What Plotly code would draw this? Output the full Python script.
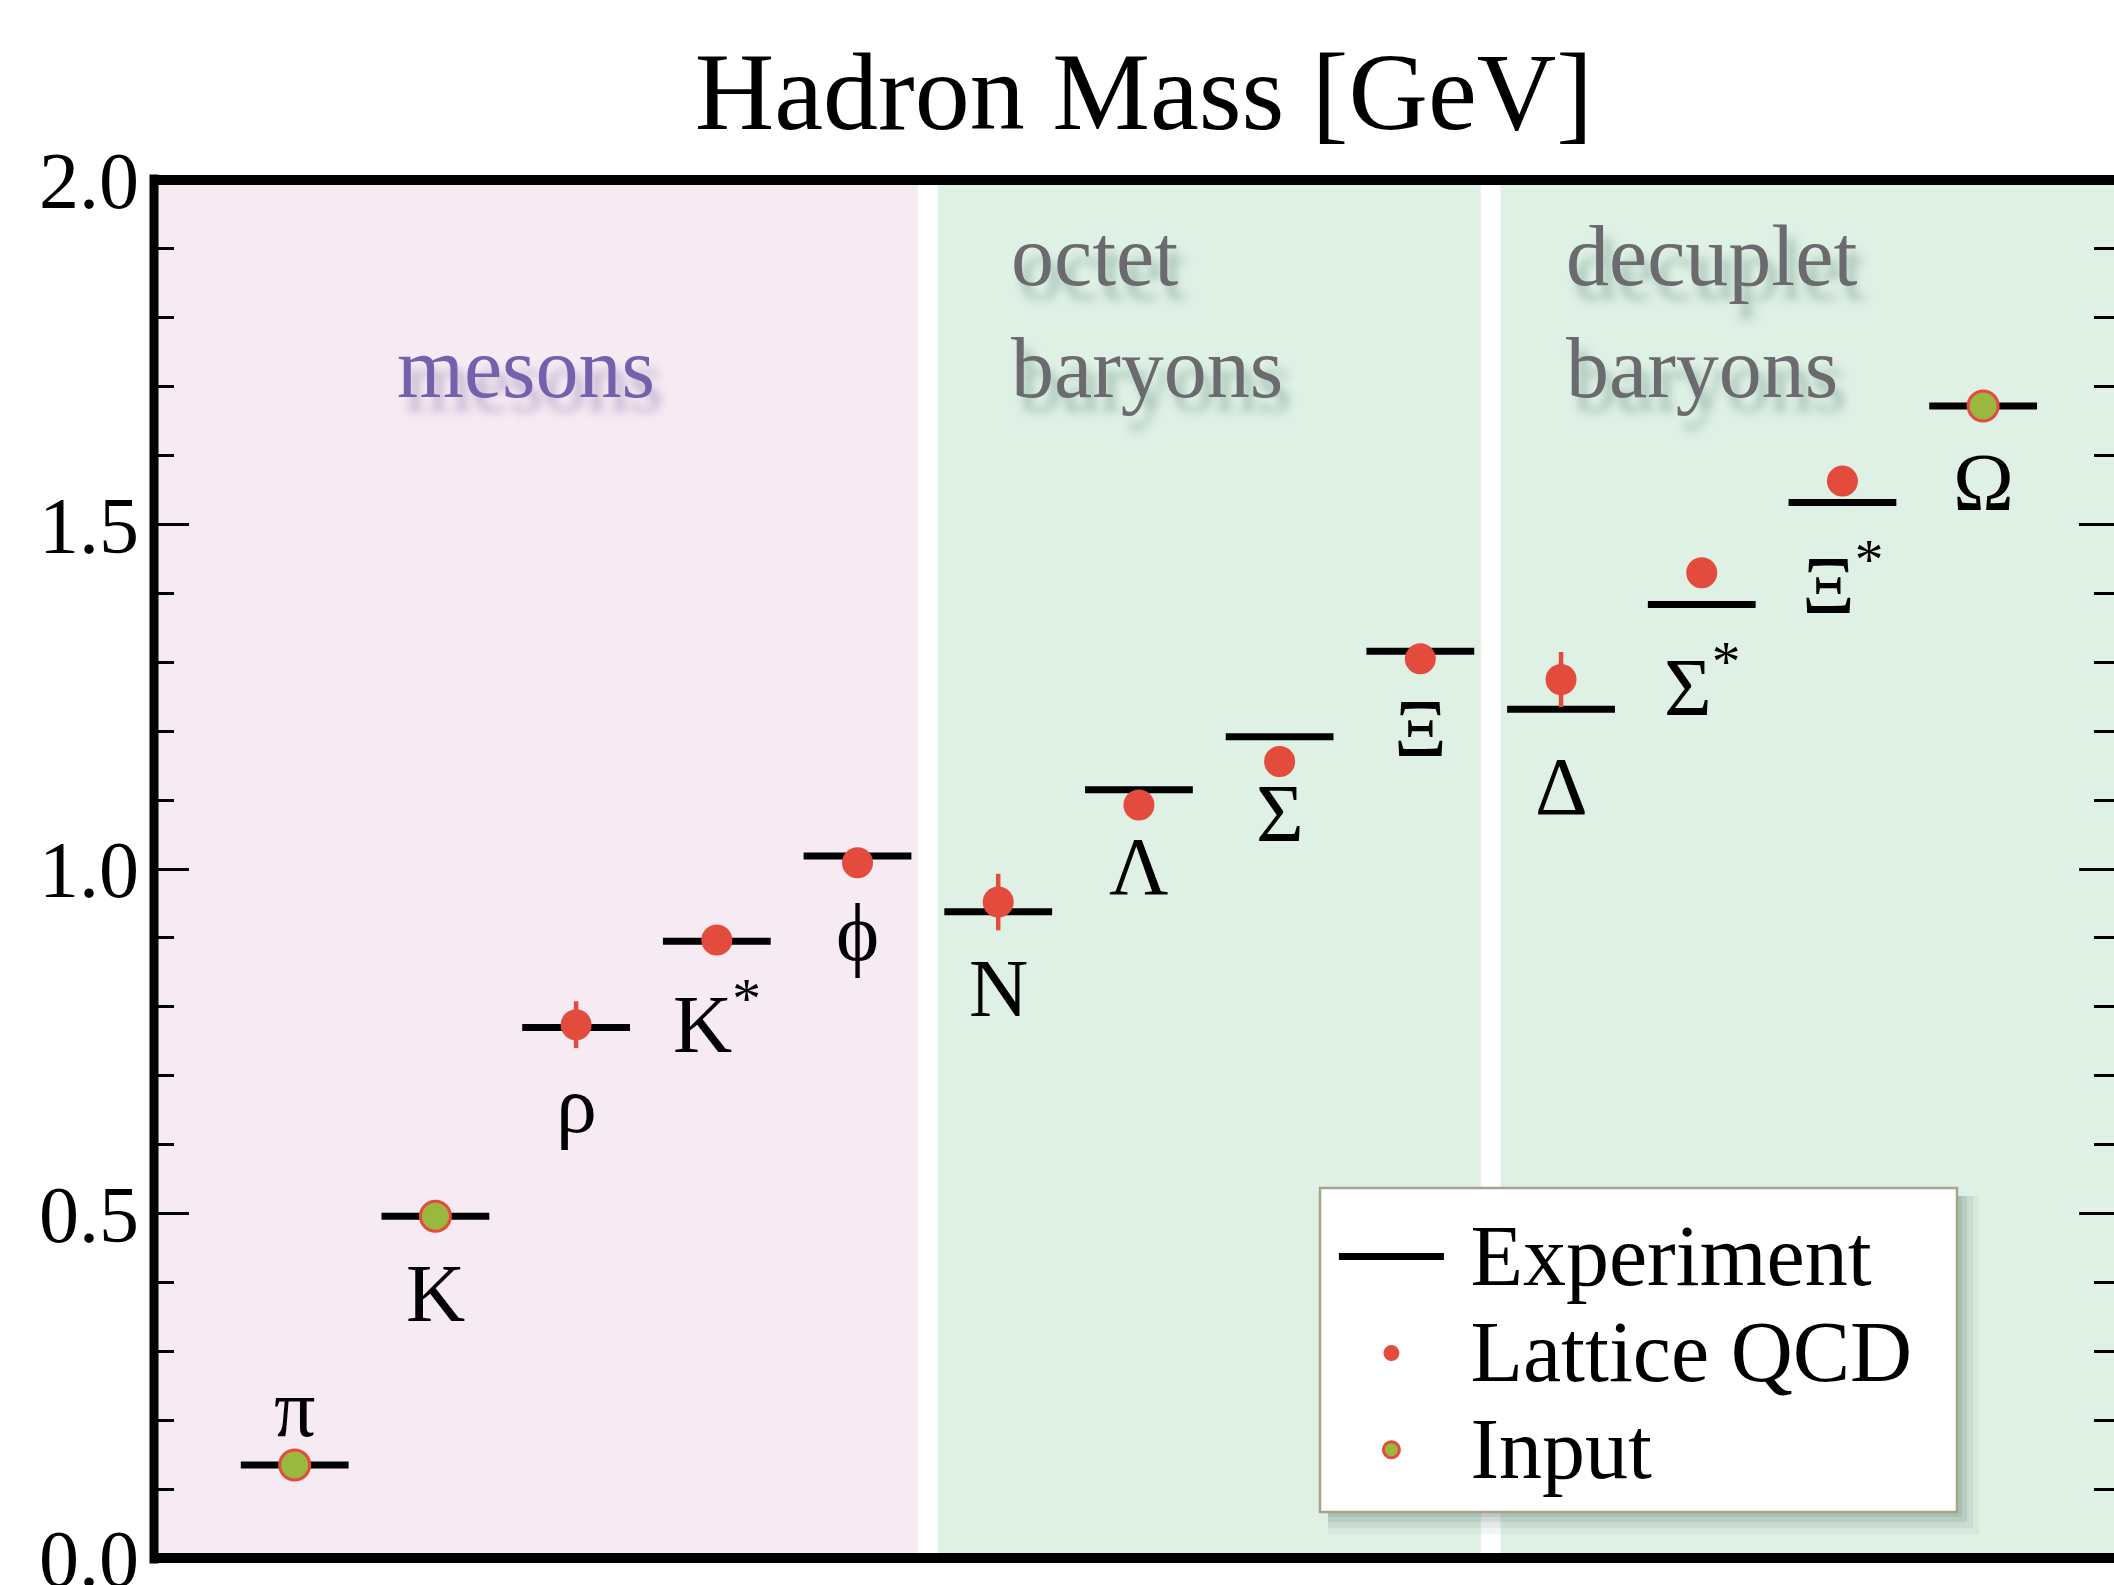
import plotly.graph_objects as go

# ---------------- data ----------------
particles = ["π", "K", "ρ", "K<sup>*</sup>", "ϕ", "N", "Λ", "Σ", "Ξ", "Δ",
             "Σ<sup>*</sup>", "Ξ<sup>*</sup>", "Ω"]
experiment = [0.135, 0.496, 0.770, 0.895, 1.019, 0.938, 1.115, 1.192, 1.316,
              1.232, 1.384, 1.532, 1.672]
lattice = [0.135, 0.496, 0.774, 0.897, 1.009, 0.952, 1.093, 1.156, 1.305,
           1.275, 1.430, 1.563, 1.672]
lattice_err = [0.0, 0.0, 0.034, 0.010, 0.012, 0.041, 0.012, 0.012, 0.012,
               0.040, 0.012, 0.012, 0.0]
is_input = [True, True, False, False, False, False, False, False, False,
            False, False, False, True]
label_above = [True] + [False] * 12

group_names = ["mesons", "octet<br>baryons", "decuplet<br>baryons"]
group_first = [1, 6, 10]
group_last = [5, 9, 13]
group_colors = ["#F6EAF3", "#DFF0E5", "#DFF0E5"]
group_text_colors = ["#7560AE", "#6A6A6F", "#6A6A6F"]

yticks = [0.0, 0.5, 1.0, 1.5, 2.0]
legend_names = ["Experiment", "Lattice QCD", "Input"]

# ---------------- styles ----------------
RED = "#E34B3C"
GREEN = "#9AB83F"
FONT = "Liberation Serif"
X_MAX = 13.93
HALF = 0.383
GAP = 0.07


def legend_label(s):
    return "<span style='font-size:86px'>\u00a0" + s + "</span>"


xpos = list(range(1, len(particles) + 1))

fig = go.Figure()

# Experiment: horizontal bars
ex_x, ex_y = [], []
for x, v in zip(xpos, experiment):
    ex_x += [x - HALF, x + HALF, None]
    ex_y += [v, v, None]
fig.add_trace(go.Scatter(
    x=ex_x, y=ex_y, mode="lines",
    line=dict(color="black", width=7),
    name=legend_label(legend_names[0]),
    hoverinfo="skip"))

# Lattice QCD results
lx = [x for x, f in zip(xpos, is_input) if not f]
ly = [v for v, f in zip(lattice, is_input) if not f]
le = [e for e, f in zip(lattice_err, is_input) if not f]
fig.add_trace(go.Scatter(
    x=lx, y=ly, mode="markers",
    marker=dict(color=RED, size=31, line=dict(width=0)),
    error_y=dict(type="data", array=le, visible=True, color=RED,
                 thickness=4.5, width=0),
    name=legend_label(legend_names[1])))

# Input points
ix = [x for x, f in zip(xpos, is_input) if f]
iy = [v for v, f in zip(lattice, is_input) if f]
fig.add_trace(go.Scatter(
    x=ix, y=iy, mode="markers",
    marker=dict(color=GREEN, size=30, line=dict(width=3, color=RED)),
    name=legend_label(legend_names[2])))

shapes = []
# backgrounds
for i, (a, b) in enumerate(zip(group_first, group_last)):
    x0 = 0 if i == 0 else a - 0.5 + GAP
    x1 = X_MAX if i == len(group_first) - 1 else b + 0.5 - GAP
    shapes.append(dict(type="rect", xref="x", yref="paper", x0=x0, x1=x1,
                       y0=0, y1=1, fillcolor=group_colors[i],
                       line=dict(width=0), layer="below"))
# axis frame (left, bottom, top)
shapes.append(dict(type="line", xref="paper", yref="paper", x0=0, x1=0,
                   y0=-0.004, y1=1.004, line=dict(color="black", width=9)))
shapes.append(dict(type="line", xref="paper", yref="paper", x0=-0.002, x1=1,
                   y0=0, y1=0, line=dict(color="black", width=10)))
shapes.append(dict(type="line", xref="paper", yref="paper", x0=-0.002, x1=1,
                   y0=1, y1=1, line=dict(color="black", width=10)))

# legend box with soft drop shadow (paper coordinates)
LB_X0, LB_X1, LB_Y0, LB_Y1 = 0.5949, 0.9199, 0.0334, 0.2685
PW, PH = 1960.0, 1378.0
for k, op in zip([22, 16, 10, 5], [0.07, 0.09, 0.12, 0.15]):
    shapes.append(dict(type="rect", xref="paper", yref="paper",
                       x0=LB_X0 + 8 / PW, x1=LB_X1 + k / PW,
                       y0=LB_Y0 - k / PH, y1=LB_Y1 - 8 / PH,
                       fillcolor="#4F6F63", opacity=op, line=dict(width=0),
                       layer="above"))
shapes.append(dict(type="rect", xref="paper", yref="paper",
                   x0=LB_X0, x1=LB_X1, y0=LB_Y0, y1=LB_Y1,
                   fillcolor="white", line=dict(color="#A7A386", width=2.5),
                   layer="above"))

annotations = []
for x, v, name, above in zip(xpos, experiment, particles, label_above):
    annotations.append(dict(
        x=x, y=v, xref="x", yref="y", text=name, showarrow=False,
        xanchor="center", yanchor="middle", yshift=56 if above else -77,
        font=dict(family=FONT, size=82, color="black")))

group_x = [1.71, 6.08, 10.02]
group_y = [1.727, 1.808, 1.808]
shadows = ["8px 14px 10px rgba(110,90,150,0.40)",
           "8px 14px 10px rgba(70,120,100,0.40)",
           "8px 14px 10px rgba(70,120,100,0.40)"]
for i, g in enumerate(group_names):
    annotations.append(dict(
        x=group_x[i], y=group_y[i], xref="x", yref="y", text=g,
        showarrow=False, xanchor="left", yanchor="middle", align="left",
        font=dict(family=FONT, size=86, color=group_text_colors[i],
                  shadow=shadows[i])))

fig.update_layout(
    width=2114, height=1585,
    margin=dict(l=154, r=0, t=180, b=27, autoexpand=False),
    paper_bgcolor="white", plot_bgcolor="white",
    title=dict(text="Hadron Mass [GeV]", x=0.505, xref="paper",
               y=1 - 90 / 1585, yref="container", xanchor="center",
               yanchor="middle",
               font=dict(family=FONT, size=110, color="black")),
    xaxis=dict(range=[0, X_MAX], showticklabels=False, ticks="",
               showgrid=False, zeroline=False, showline=False),
    yaxis=dict(range=[0, 2], tickvals=yticks,
               ticktext=[f"{t:.1f}" for t in yticks],
               ticks="inside", ticklen=35, tickwidth=3, tickcolor="black",
               mirror="ticks", showline=False, showgrid=False,
               zeroline=False, ticklabelstandoff=14,
               ticklabeloverflow="allow",
               tickfont=dict(family=FONT, size=80, color="black"),
               minor=dict(dtick=0.1, ticks="inside", ticklen=20,
                          tickwidth=3, tickcolor="black", showgrid=False)),
    legend=dict(x=0.602, y=0.2575, xanchor="left", yanchor="top",
                bgcolor="rgba(0,0,0,0)", borderwidth=0,
                font=dict(family=FONT, size=72, color="black"),
                itemwidth=105, tracegroupgap=0),
    shapes=shapes,
    annotations=annotations,
    showlegend=True,
)

fig.write_html("out.html", config={"displayModeBar": False},
               post_script="document.body.style.margin='0px';")
